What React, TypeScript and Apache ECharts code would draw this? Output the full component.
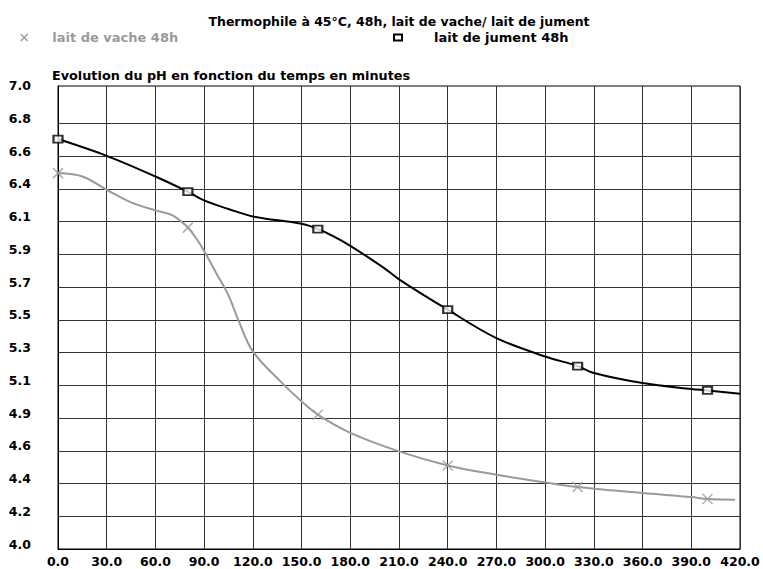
import React, { useEffect, useRef } from "react";
import * as echarts from "echarts";

const titleText = "Thermophile à 45°C, 48h, lait de vache/ lait de jument";
const subTitleText = "Evolution du pH en fonction du temps en minutes";
const seriesVache = "lait de vache 48h";
const seriesJument = "lait de jument 48h";

// curve (line) points: minutes / pH
const jumentTimes = [0, 30, 60, 80, 90, 105, 120, 150, 160, 170, 180, 200, 210, 240, 270, 300, 320, 330, 360, 390, 400, 420];
const jumentValues = [6.683, 6.573, 6.438, 6.338, 6.281, 6.225, 6.176, 6.128, 6.094, 6.044, 5.984, 5.845, 5.765, 5.566, 5.38, 5.26, 5.197, 5.152, 5.086, 5.047, 5.038, 5.016];

const vacheTimes = [0, 15, 30, 45, 60, 70, 77, 80, 85, 90, 98, 105, 111, 120, 137, 150, 160, 180, 210, 240, 270, 300, 320, 360, 390, 400, 417];
const vacheValues = [6.46, 6.438, 6.351, 6.268, 6.216, 6.187, 6.133, 6.103, 6.035, 5.95, 5.795, 5.66, 5.5, 5.293, 5.097, 4.966, 4.879, 4.76, 4.639, 4.547, 4.486, 4.436, 4.406, 4.366, 4.34, 4.327, 4.323];

// marker points
const markerTimes = [0, 80, 160, 240, 320, 400];
const jumentMarkers = [6.683, 6.338, 6.094, 5.566, 5.197, 5.038];
const vacheMarkers = [6.46, 6.103, 4.879, 4.547, 4.406, 4.327];

// axes
const xMin = 0;
const xMax = 420;
const xStep = 30;
const yMin = 4.0;
const yTop = 7.0;
const yStepCount = 14;
const yMaxFrame = 7.03;

const yStep = (yTop - yMin) / yStepCount;
const yTickValues = Array.from({ length: yStepCount }, (_, k) => yMin + k * yStep);
const yLabelValues = Array.from({ length: yStepCount + 1 }, (_, k) => yMin + k * yStep);

const FONT = "DejaVu Sans";
const GRAY = "#9a9a9a";
const X_ICON = "path://M0,0L10,10M10,0L0,10";
const FS = 12.5;

export default function App() {
  const ref = useRef<HTMLDivElement>(null);
  useEffect(() => {
    if (!ref.current) return;
    const chart = echarts.init(ref.current, undefined, { renderer: "svg" });
    const zip = (t: number[], v: number[]) => t.map((x, i) => [x, v[i]]);
    chart.setOption({
      animation: false,
      backgroundColor: "#fff",
      title: [
        {
          text: titleText,
          left: 394,
          top: 10,
          textAlign: "center",
          textStyle: { fontFamily: FONT, fontWeight: "bold", fontSize: FS, color: "#000" },
        },
        {
          text: subTitleText,
          left: 47,
          top: 64,
          textStyle: { fontFamily: FONT, fontWeight: "bold", fontSize: 12.8, color: "#000" },
        },
      ],
      legend: [
        {
          data: [
            {
              name: seriesVache,
              icon: X_ICON,
              itemStyle: { color: "transparent", borderColor: GRAY, borderWidth: 1.5 },
            },
          ],
          left: 15,
          top: 26,
          itemWidth: 10,
          itemHeight: 7,
          selectedMode: false,
          textStyle: { fontFamily: FONT, fontWeight: "bold", fontSize: 13, color: GRAY, padding: [0, 0, 0, 18] },
        },
        {
          data: [
            {
              name: seriesJument,
              icon: "rect",
              itemStyle: { color: "#fff", borderColor: "#000", borderWidth: 2 },
            },
          ],
          left: 388,
          top: 26,
          itemWidth: 8,
          itemHeight: 6,
          selectedMode: false,
          textStyle: { fontFamily: FONT, fontWeight: "bold", fontSize: 13, color: "#000", padding: [0, 0, 0, 27] },
        },
      ],
      grid: {
        left: 58,
        right: 23,
        top: 86,
        bottom: 20,
        show: true,
        borderColor: "#000",
        borderWidth: 1,
        backgroundColor: "transparent",
      },
      xAxis: {
        type: "value",
        min: xMin,
        max: xMax,
        interval: xStep,
        axisLine: { show: true, lineStyle: { color: "#000", width: 1 } },
        axisTick: { show: false },
        splitLine: { show: true, lineStyle: { color: "#333", width: 1 } },
        axisLabel: {
          margin: 6,
          formatter: (v: number) => v.toFixed(1),
          fontFamily: FONT,
          fontWeight: "bold",
          fontSize: FS,
          color: "#000",
        },
      },
      yAxis: {
        type: "value",
        min: yMin,
        max: yMaxFrame,
        axisLine: { show: true, lineStyle: { color: "#000", width: 1 } },
        axisTick: { show: false, customValues: yTickValues },
        splitLine: { show: true, lineStyle: { color: "#333", width: 1 } },
        axisLabel: {
          customValues: yLabelValues,
          margin: 27,
          verticalAlign: "bottom",
          lineHeight: 10,
          formatter: (v: number) => v.toFixed(1),
          fontFamily: FONT,
          fontWeight: "bold",
          fontSize: FS,
          color: "#000",
        },
      },
      series: [
        {
          name: seriesVache,
          type: "line",
          data: zip(vacheTimes, vacheValues),
          smooth: 0.35,
          symbol: "none",
          lineStyle: { color: GRAY, width: 2 },
          itemStyle: { color: GRAY },
          z: 2,
        },
        {
          name: seriesVache,
          type: "scatter",
          data: zip(markerTimes, vacheMarkers),
          symbol: X_ICON,
          symbolSize: 10,
          itemStyle: { color: "transparent", borderColor: GRAY, borderWidth: 1.5 },
          z: 3,
        },
        {
          name: seriesJument,
          type: "line",
          data: zip(jumentTimes, jumentValues),
          smooth: 0.35,
          symbol: "none",
          lineStyle: { color: "#000", width: 2 },
          itemStyle: { color: "#000" },
          z: 4,
        },
        {
          name: seriesJument,
          type: "scatter",
          data: zip(markerTimes, jumentMarkers),
          symbol: "rect",
          symbolSize: [9, 7],
          itemStyle: { color: "#fff", borderColor: "#000", borderWidth: 2 },
          z: 5,
        },
      ],
    });
    return () => chart.dispose();
  }, []);
  return <div ref={ref} style={{ position: "fixed", left: 0, top: 0, width: 763, height: 569 }} />;
}
